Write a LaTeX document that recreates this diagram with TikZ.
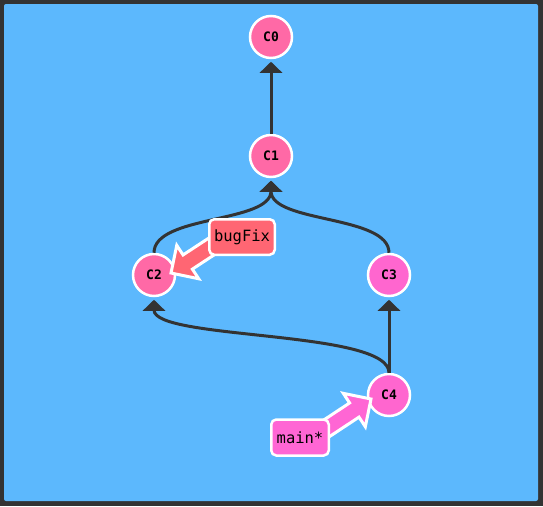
\documentclass[tikz,border=0pt]{standalone}
\usepackage{fontspec}
\setmonofont{DejaVu Sans Mono}
\usetikzlibrary{arrows.meta,calc}
\definecolor{bgblue}{HTML}{5CB8FD}
\definecolor{framec}{HTML}{333333}
\definecolor{edgec}{HTML}{333333}
\definecolor{pinkA}{HTML}{FF69A6}
\definecolor{pinkB}{HTML}{FF66CF}
\definecolor{redbox}{HTML}{FF6673}
\definecolor{magbox}{HTML}{FF66D4}
\begin{document}
\begin{tikzpicture}[x=1pt,y=-1pt,
  commit/.style={circle, draw=white, line width=2.5pt, minimum size=42pt, inner sep=0pt,
    font=\ttfamily\bfseries\fontsize{13}{13}\selectfont},
  link/.style={draw=edgec, line width=3pt, shorten >=2.5pt,
    -{Triangle[width=22pt,length=11pt]}},
  tagbox/.style={rectangle, rounded corners=5pt, draw=white, line width=2.5pt, inner sep=0pt,
    minimum height=35.5pt, font=\ttfamily\fontsize{15.5}{15.5}\selectfont},
  fat/.style={draw=white, line width=3pt, line join=miter}]
\useasboundingbox (0,0) rectangle (543,506);
\fill[framec] (0,0) rectangle (543,506);
\fill[bgblue, rounded corners=2pt] (4,4) rectangle (538,501);

\node[commit, fill=pinkA] (c0) at (271,37) {C0};
\node[commit, fill=pinkA] (c1) at (271,156) {C1};
\node[commit, fill=pinkA] (c2) at (154,275) {C2};
\node[commit, fill=pinkB] (c3) at (389,275) {C3};
\node[commit, fill=pinkB] (c4) at (389,395) {C4};

\draw[link] (c1) -- (c0);
\draw[link] (c2.north) .. controls +(0,-38) and +(0,45) .. (c1.south);
\draw[link] (c3.north) .. controls +(0,-38) and +(0,45) .. (c1.south);
\draw[link] (c4) -- (c3);
\draw[link] (c4.north) .. controls +(0,-43) and +(0,43) .. (c2.south);

% bugFix fat arrow
\coordinate (bt) at (171,273);
\coordinate (bs) at (232,233);
\coordinate (bh) at ($(bt)!20pt!(bs)$);
\coordinate (be) at ($(bt)!72pt!(bs)$);
\draw[fat, fill=redbox] (bt) -- ($(bh)!20pt!90:(bt)$) -- ($(bh)!8.5pt!90:(bt)$)
  -- ($(be)!8.5pt!90:(bt)$) -- ($(be)!8.5pt!-90:(bt)$)
  -- ($(bh)!8.5pt!-90:(bt)$) -- ($(bh)!20pt!-90:(bt)$) -- cycle;

% main* fat arrow
\coordinate (mt) at (371,399);
\coordinate (ms) at (318,434);
\coordinate (mh) at ($(mt)!20pt!(ms)$);
\coordinate (me) at ($(mt)!72pt!(ms)$);
\draw[fat, fill=magbox] (mt) -- ($(mh)!20pt!90:(mt)$) -- ($(mh)!8.5pt!90:(mt)$)
  -- ($(me)!8.5pt!90:(mt)$) -- ($(me)!8.5pt!-90:(mt)$)
  -- ($(mh)!8.5pt!-90:(mt)$) -- ($(mh)!20pt!-90:(mt)$) -- cycle;

\node[tagbox, fill=redbox, minimum width=65.5pt] (bugfix) at (242,237) {bugFix};
\node[tagbox, fill=magbox, minimum width=57.5pt, minimum height=36pt] (main) at (300,437.5) {main*};
\end{tikzpicture}
\end{document}
